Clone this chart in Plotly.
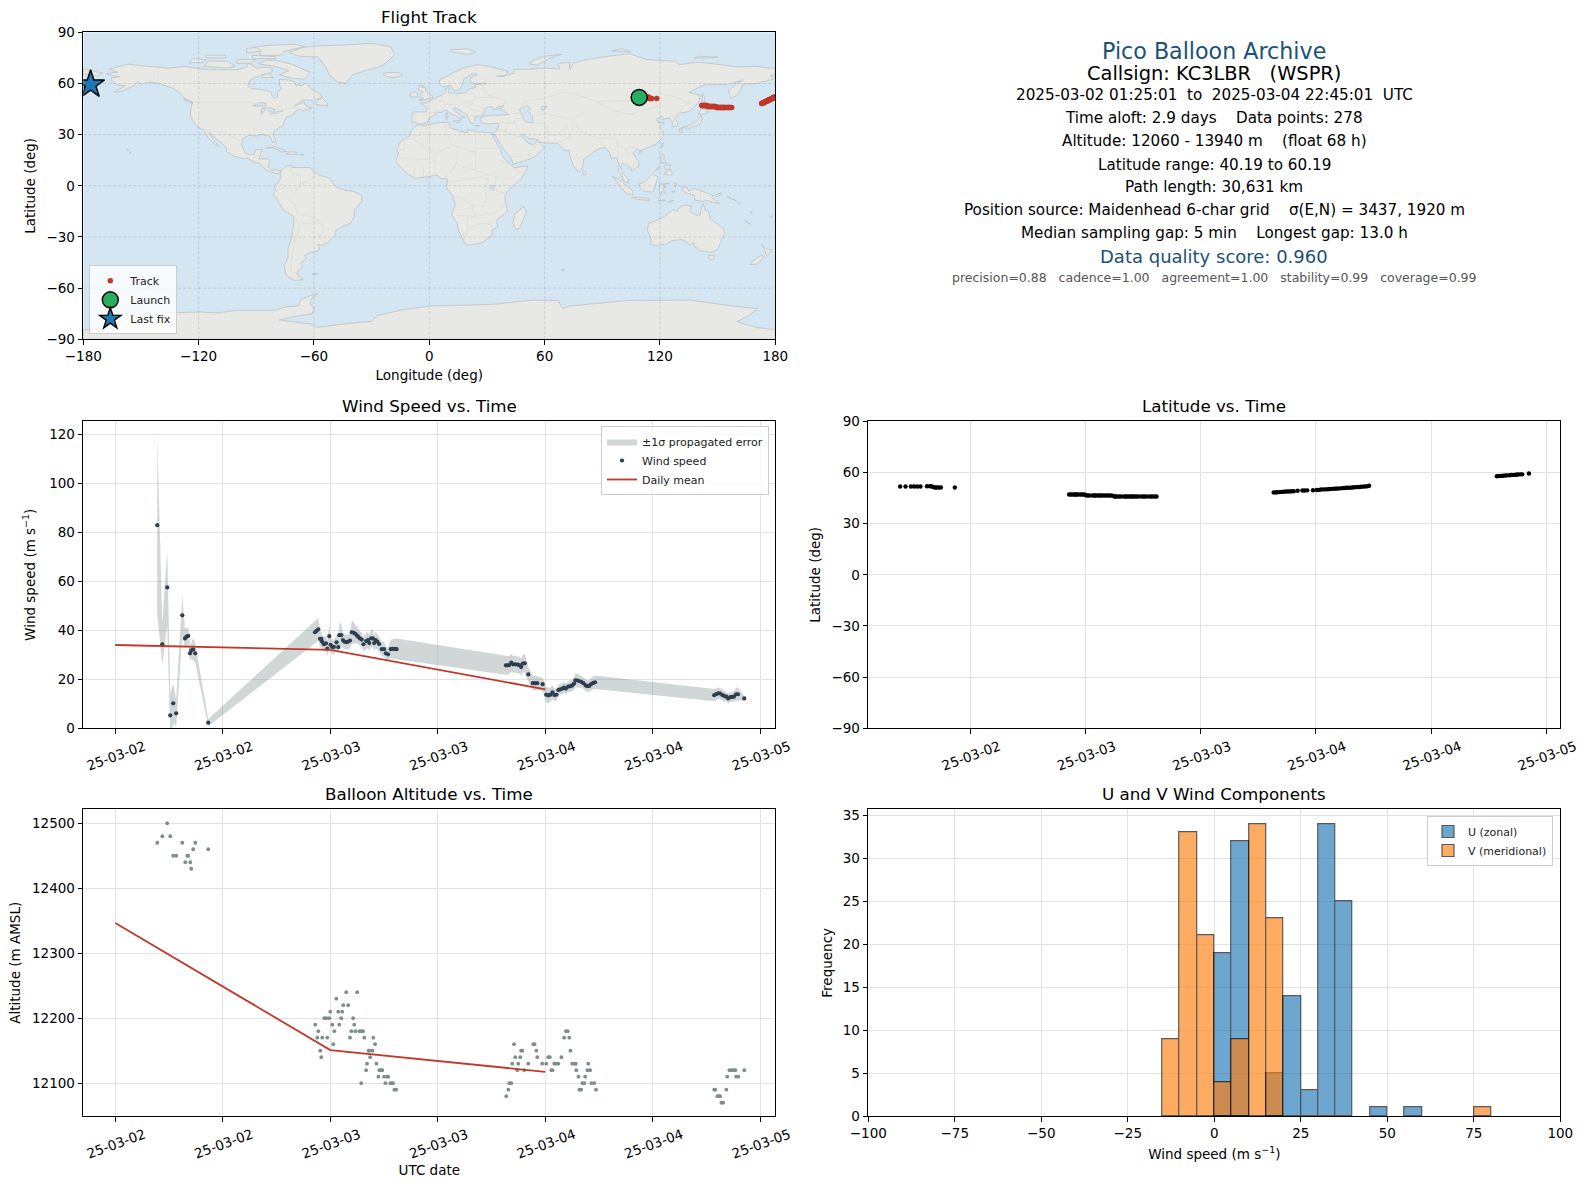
import pandas as pd
import plotly.graph_objs as go

# ---- flight data (hours after 2025-03-02 00:00 UTC) ----
wind_hours = [
    4.69, 5.25, 5.8, 6.14, 6.47, 6.8, 7.48, 7.78, 7.96, 8.15, 8.34, 8.48, 8.7, 8.93, 10.38,
    22.29, 22.47, 22.66, 22.85, 23.0, 23.07, 23.29, 23.52, 23.67, 23.89,
    24.03, 24.22, 24.4, 24.7, 24.89, 25.0, 25.22, 25.41, 25.56, 25.78,
    26.0, 26.2, 26.4, 26.6, 26.8, 27.0, 27.1, 27.3, 27.5, 27.7,
    28.0, 28.2, 28.35, 28.55, 28.75, 28.9, 29.05, 29.25, 29.45, 29.75,
    30.0, 30.2, 30.45, 30.75, 30.95, 31.2, 31.4,
    43.6, 43.8, 43.97, 44.2, 44.4, 44.65, 44.9, 45.1, 45.3, 45.5,
    45.7, 46.1, 46.6, 46.85, 47.1, 47.7, 48.1, 48.35, 48.55, 48.8,
    49.0, 49.25, 49.45, 49.67, 49.9, 50.1, 50.3, 50.55, 50.8, 51.0,
    51.2, 51.37, 51.6, 51.8, 52.0, 52.25, 52.5, 52.7, 52.9, 53.1,
    53.35, 53.55,
    66.85, 67.1, 67.3, 67.5, 67.75, 67.95, 68.2, 68.4, 68.65, 68.85, 69.05, 69.3, 69.5, 70.2,
]
wind_speed = [
    82.9, 34.3, 57.5, 5.3, 10.2, 6.1, 46.1, 36.7, 37.4, 37.7, 30.6, 31.8, 32.2, 30.6, 2.3,
    39.2, 39.8, 40.4, 36.5, 36.5, 35.4, 34.3, 34.7, 32.5, 37.6,
    34.1, 33.2, 33.2, 35.1, 33.1, 38.0, 38.0, 36.0, 35.4, 35.2,
    35.4, 35.8, 39.2, 39.0, 38.5, 37.8, 37.4, 36.7, 36.2, 34.3,
    35.6, 36.0, 34.8, 36.7, 36.7, 34.8, 36.0, 35.4, 34.4, 32.3,
    32.3, 30.6, 30.2, 32.3, 32.4, 32.4, 32.3,
    25.7, 25.7, 25.8, 26.8, 26.1, 26.1, 26.0, 25.8, 25.0, 26.4,
    26.5, 22.0, 18.4, 18.4, 18.4, 18.0, 13.7, 13.4, 13.7, 14.7,
    13.6, 13.7, 15.6, 15.9, 16.2, 16.6, 16.2, 17.0, 17.2, 17.5,
    18.2, 19.6, 19.5, 19.2, 19.0, 18.4, 17.5, 17.2, 17.3, 18.0,
    18.5, 18.8,
    13.5, 14.0, 14.3, 14.2, 13.6, 13.2, 12.9, 12.2, 12.7, 12.8, 12.9, 13.9, 13.9, 12.2,
]
wind_sigma = [
    36.5, 8.5, 15.2, 9.0, 8.2, 5.4, 8.3, 4.0, 3.6, 3.5, 3.0, 3.4, 4.6, 3.8, 1.5,
    4.6, 4.6, 4.6, 3.4, 3.2, 3.0, 3.0, 3.2, 3.0, 4.6,
    3.0, 3.0, 3.0, 3.2, 3.0, 5.2, 4.4, 3.2, 3.0, 3.0,
    3.0, 3.2, 4.8, 4.4, 3.8, 3.2, 3.2, 3.0, 3.0, 3.0,
    3.2, 3.4, 3.2, 3.6, 3.6, 3.2, 3.4, 3.0, 3.0, 3.0,
    3.0, 2.8, 2.8, 3.8, 4.0, 4.2, 4.4,
    3.8, 3.8, 3.6, 3.6, 3.4, 3.4, 3.4, 3.4, 3.4, 3.6,
    3.8, 3.0, 3.0, 3.0, 2.8, 2.6, 3.2, 3.2, 3.0, 2.8,
    2.6, 2.4, 2.2, 2.2, 2.2, 2.2, 2.2, 2.2, 2.4, 2.4,
    2.6, 2.8, 2.8, 2.6, 2.4, 2.4, 2.4, 2.4, 2.4, 2.6,
    2.6, 2.8,
    2.5, 2.5, 2.4, 2.2, 2.2, 2.2, 2.0, 2.0, 2.0, 2.0, 2.2, 2.8, 2.6, 1.0,
]
lat_vals = [
    51.8, 51.8, 51.8, 51.8, 51.8, 51.8, 51.9, 51.9, 51.9, 51.4, 51.2, 51.2, 51.2, 51.2, 51.2,
    47.1, 47.1, 47.1, 47.1, 47.1, 47.1, 47.1, 47.1, 47.1, 47.1,
    46.6, 46.5, 46.5, 46.5, 46.5, 46.5, 46.5, 46.5, 46.5, 46.5,
    46.5, 46.5, 46.5, 46.5, 46.4, 45.9, 45.9, 45.9, 45.9, 45.9,
    45.9, 45.9, 45.9, 45.9, 45.9, 45.9, 45.9, 45.9, 45.9, 45.9,
    45.9, 45.9, 45.9, 45.9, 45.9, 45.9, 45.9,
    48.3, 48.3, 48.4, 48.5, 48.6, 48.7, 48.8, 48.9, 48.9, 49.0,
    49.0, 49.3, 49.4, 49.4, 49.5, 49.6, 49.7, 49.8, 50.0, 50.1,
    50.1, 50.2, 50.3, 50.4, 50.5, 50.5, 50.6, 50.7, 50.8, 50.9,
    51.0, 51.0, 51.1, 51.2, 51.3, 51.4, 51.5, 51.6, 51.7, 51.8,
    51.9, 52.2,
    57.8, 57.9, 58.0, 58.1, 58.2, 58.3, 58.4, 58.5, 58.6, 58.7, 58.8, 58.9, 58.9, 59.4,
]
lon_vals = [
    109.2, 110.0, 110.9, 111.4, 112.0, 112.5, 113.4, 113.8, 114.1, 114.4, 114.7, 115.0, 115.3, 115.7, 118.3,
    141.7, 142.0, 142.3, 142.6, 142.9, 143.1, 143.4, 143.7, 144.0, 144.3,
    144.6, 144.9, 145.2, 145.6, 145.9, 146.1, 146.4, 146.8, 147.1, 147.4,
    147.8, 148.1, 148.4, 148.8, 149.1, 149.5, 149.8, 150.2, 150.5, 150.9,
    151.3, 151.7, 152.0, 152.4, 152.7, 153.0, 153.3, 153.6, 154.0, 154.5,
    155.0, 155.3, 155.7, 156.1, 156.5, 156.9, 157.3,
    172.9, 173.0, 173.2, 173.4, 173.5, 173.7, 173.8, 174.0, 174.1, 174.3,
    174.4, 174.7, 175.0, 175.1, 175.3, 175.6, 175.9, 176.0, 176.2, 176.3,
    176.5, 176.6, 176.8, 176.9, 177.0, 177.2, 177.3, 177.5, 177.6, 177.8,
    177.9, 178.0, 178.2, 178.3, 178.5, 178.6, 178.8, 178.9, 179.0, 179.2,
    179.5, 179.9,
    -178.5, -178.3, -178.1, -178.0, -177.8, -177.7, -177.5, -177.4, -177.2, -177.0, -176.9, -176.7, -176.6, -176.2,
]

alt_hours = [
    4.69, 5.25, 5.8, 6.14, 6.47, 6.8, 7.48, 7.82, 8.04, 8.15, 8.37, 8.48, 8.7, 8.93, 10.38,
    22.32, 22.66, 22.55, 22.88, 23.0, 23.1, 23.33, 23.55, 23.66, 23.89,
    24.0, 24.22, 24.33, 24.45, 24.67, 24.89, 25.0, 25.22, 25.33, 25.45,
    25.78, 26.0, 26.2, 26.35, 26.55, 26.67, 26.8, 27.0, 27.25, 27.5,
    27.65, 27.8, 27.45, 28.0, 28.1, 28.27, 28.45, 28.35, 28.7, 28.8,
    29.0, 29.15, 29.37, 29.47, 29.7, 29.8, 30.0, 30.15, 30.35, 30.47,
    30.7, 30.9, 31.0, 31.15, 31.35,
    43.64, 43.87, 43.98, 44.2, 44.3, 44.5, 44.65, 44.87, 44.98, 45.2,
    45.3, 45.43, 45.65, 46.1, 46.65, 46.8, 47.0, 47.1, 47.65, 48.1,
    48.33, 48.5, 48.67, 48.8, 49.0, 49.2, 49.45, 49.8, 50.1, 50.3,
    50.5, 50.67, 50.8, 51.0, 51.25, 51.4, 51.45, 51.7, 51.8, 52.0,
    52.15, 52.35, 52.45, 52.7, 52.8, 53.0, 53.15, 53.45, 53.65,
    66.85, 66.97, 67.2, 67.4, 67.5, 67.65, 67.85, 68.2, 68.3, 68.55, 68.75, 69.0, 69.2, 69.3, 69.55, 70.2,
]
alt_vals = [
    12470, 12480, 12500, 12480, 12450, 12450, 12470, 12440, 12450, 12450, 12440, 12430, 12460, 12470, 12460,
    12190, 12180, 12170, 12150, 12140, 12170, 12200, 12200, 12170, 12200,
    12210, 12190, 12160, 12180, 12230, 12210, 12190, 12200, 12210, 12220,
    12240, 12220, 12170, 12180, 12200, 12190, 12180, 12240, 12180, 12180,
    12180, 12170, 12100, 12120, 12130, 12150, 12140, 12150, 12150, 12170,
    12160, 12130, 12110, 12120, 12120, 12120, 12110, 12100, 12110, 12110,
    12100, 12100, 12100, 12090, 12090,
    12080, 12090, 12100, 12100, 12130, 12160, 12140, 12120, 12130, 12140,
    12150, 12150, 12120, 12130, 12160, 12160, 12150, 12140, 12130, 12130,
    12140, 12140, 12120, 12120, 12130, 12130, 12130, 12140, 12170, 12180,
    12180, 12170, 12150, 12130, 12130, 12130, 12120, 12110, 12090, 12090,
    12100, 12100, 12110, 12120, 12130, 12120, 12100, 12100, 12090,
    12090, 12090, 12080, 12080, 12080, 12070, 12070, 12090, 12110, 12120, 12120, 12120, 12120, 12110, 12110, 12120,
]

mean_hours = [0, 24, 48]
mean_wind = [34.0, 32.0, 15.9]
mean_alt = [12346.6, 12151, 12117.4]

hist_left = [-15, -10, -5, 0, 5, 10, 15, 20, 25, 30, 35, 40, 45, 50, 55, 60, 65, 70, 75]
u_counts = [0, 0, 0, 19, 32, 0, 5, 14, 3, 34, 25, 0, 1, 0, 1, 0, 0, 0, 0]
v_counts = [9, 33, 21, 4, 9, 34, 23, 0, 0, 0, 0, 0, 0, 0, 0, 0, 0, 0, 1]

info_lines = [
    "2025-03-02 01:25:01  to  2025-03-04 22:45:01  UTC",
    "Time aloft: 2.9 days    Data points: 278",
    "Altitude: 12060 - 13940 m    (float 68 h)",
    "Latitude range: 40.19 to 60.19",
    "Path length: 30,631 km",
    "Position source: Maidenhead 6-char grid    σ(E,N) = 3437, 1920 m",
    "Median sampling gap: 5 min    Longest gap: 13.0 h",
]
info_y = [95.3, 118.3, 141.2, 164.8, 187.3, 210.3, 233.3]

# ---- base map outlines (lon, lat), traced by eye ----
land_polygons = [
    # North America
    [(-168, 65.6), (-164, 66.5), (-162, 66.5), (-166.5, 68.3), (-163, 69.5), (-156.5, 71.3), (-150, 70.4), (-141, 69.7),
     (-135, 69), (-128, 70), (-124, 69.5), (-115, 68), (-108, 68), (-100, 68), (-95, 69.5), (-94, 72), (-90, 69),
     (-85, 69.5), (-81.5, 69), (-82, 66.5), (-87, 65), (-90, 64), (-93, 62), (-94.5, 59), (-92.5, 57), (-88, 56.5),
     (-82.5, 55.2), (-82, 53), (-80, 51.3), (-79, 52), (-79, 55), (-76.8, 57), (-78, 59), (-78, 62.4), (-73, 62),
     (-70, 60.8), (-69.5, 59), (-66, 58.8), (-64.5, 60.3), (-61.5, 57), (-57, 54), (-55.8, 52), (-60, 50.2), (-66, 50.2),
     (-70, 47), (-65, 49), (-64.5, 47), (-61, 45.5), (-65.8, 44), (-67, 45), (-70, 43.5), (-70.5, 41.7), (-74, 40.5),
     (-75.5, 38), (-76, 35.5), (-78, 34), (-81, 32), (-81.3, 30), (-80, 26.8), (-80.5, 25.2), (-81.8, 26), (-83, 29),
     (-85, 29.7), (-89, 30.2), (-89.5, 29.2), (-94, 29.6), (-97.2, 27.5), (-97.5, 24), (-96, 19.5), (-94, 18.2),
     (-91, 18.6), (-90.5, 21), (-87, 21.4), (-88, 17.5), (-88.8, 15.8), (-84, 15.8), (-83.2, 14.8), (-83.7, 11), (-82, 9),
     (-79.5, 9.5), (-77.3, 8.7), (-78, 7.3), (-80, 7.4), (-83, 8.2), (-85.7, 10), (-87.6, 13), (-91.5, 14), (-94.5, 16.2),
     (-97, 15.9), (-101.5, 17.5), (-105.5, 20), (-105.5, 22.5), (-109, 25.8), (-112.5, 29.5), (-114.7, 31.5), (-112.5, 27.5),
     (-110, 24), (-109.5, 23), (-112, 24.8), (-115, 28), (-117.2, 32.5), (-120.5, 34.5), (-122.5, 37.5), (-124.3, 40.3),
     (-124, 46), (-123, 49), (-127, 51), (-130, 54.5), (-133, 57), (-137, 58.7), (-140, 59.8), (-146, 60.8), (-150, 59.5),
     (-152, 61), (-154, 58.5), (-160, 55.5), (-164, 54.7), (-158, 58.7), (-162, 59), (-165, 61), (-165.5, 63), (-161, 64), (-165, 64.6)],
    # Greenland and the Arctic islands
    [(-73, 78.2), (-66, 81), (-60, 82), (-45, 82.5), (-30, 83.5), (-20, 81.5), (-18, 77), (-22, 72.5), (-25, 70), (-32, 68),
     (-40, 65), (-43.5, 60), (-48, 61), (-52, 65), (-54, 70), (-58, 75.5), (-68, 76)],
    [(-80, 73.5), (-72, 71.5), (-68, 69.5), (-62, 66.5), (-65, 62.5), (-71, 63), (-78, 65), (-73, 67.5), (-80, 70), (-89, 71.5), (-85, 73.7)],
    [(-117, 70), (-105, 69), (-101, 70), (-105, 73), (-115, 73.2)],
    [(-125, 72), (-118, 72.5), (-116, 74), (-123, 74.5)],
    [(-88, 76.5), (-78, 76.5), (-75, 79), (-65, 81.5), (-70, 83), (-85, 82.3), (-92, 81), (-88, 78)],
    [(-92, 74.5), (-80, 74.6), (-80, 75.7), (-92, 76.5)],
    [(-116, 75), (-106, 75), (-106, 76.5), (-116, 76.5)],
    [(-100, 71.8), (-93, 72), (-90, 74), (-100, 74)],
    [(-95, 78), (-87, 79), (-90, 81), (-95, 80.5)],
    [(-59, 47.7), (-53, 46.7), (-53, 48.5), (-56, 51.5), (-58, 50)],
    [(-87, 63.5), (-81, 63.5), (-84, 65.8), (-87, 65)],
    [(-128, 50.5), (-123.5, 48.5), (-125.5, 50.3)],
    # Caribbean
    [(-85, 22), (-80, 23), (-74.2, 20.2), (-77.5, 19.9), (-78, 20.7), (-82, 22.5)],
    [(-74.5, 18.5), (-68.5, 18.5), (-69.5, 19.9), (-73, 19.9)],
    [(-67.2, 18), (-65.6, 18), (-65.6, 18.5), (-67.2, 18.5)],
    [(-155.9, 20), (-155, 19.7), (-155.7, 19)],
    [(-157.5, 21.2), (-156.2, 20.7), (-156.8, 21)],
    # South America
    [(-77.3, 8.7), (-75, 11), (-72, 12.2), (-71.5, 10.8), (-68, 10.7), (-62, 10.7), (-60, 8.5), (-57, 6), (-52, 4.7), (-50, 1),
     (-48, -1), (-44, -2.6), (-40, -3), (-35.2, -5.5), (-35, -9), (-39, -14), (-39, -18), (-41, -22), (-45, -23.7), (-48.5, -26),
     (-49, -29), (-53, -33.5), (-56, -35), (-58.3, -34.2), (-57, -36.5), (-58, -38.3), (-62, -39), (-65, -41), (-63.7, -42.5),
     (-67, -45.5), (-66, -47.5), (-69, -51), (-68.3, -52.5), (-65.5, -55), (-70, -55.5), (-74.5, -52.5), (-75.5, -47), (-73.5, -42),
     (-73.5, -37), (-71.5, -30), (-70.3, -20), (-71, -17.5), (-76, -14), (-78, -10), (-81.3, -5), (-80, -2.5), (-80.5, 0), (-78.5, 2),
     (-77.5, 4), (-77.5, 7)],
    [(-61, -52), (-58, -51.5), (-58.5, -52.2)],
    # Africa
    [(-6, 35.8), (-2, 35.2), (3, 36.8), (10, 37.3), (11, 34), (15, 32.3), (20, 31), (20, 32.8), (25, 31.7), (32, 31.2), (32.5, 30),
     (33.7, 27.5), (35.5, 24), (37.3, 21), (37.5, 18.5), (39.5, 15.5), (43, 12), (44, 10.5), (51, 11.8), (51, 10), (48, 4.5),
     (42, -1.5), (39.5, -5), (39.5, -9), (40.7, -15), (35, -20), (35.5, -24), (32.8, -26), (32.5, -29), (28, -33), (25, -34),
     (20, -34.8), (18.4, -34), (17, -30), (15, -26), (14.5, -22), (11.8, -17), (13.5, -11), (12.2, -6), (9, -1), (9.5, 4), (6, 4.3),
     (4, 6.3), (-2, 5), (-7.5, 4.4), (-11, 6.7), (-15, 11), (-17.5, 14.7), (-16, 19), (-17, 21), (-15, 26), (-10, 29.5), (-9.5, 32.5)],
    # Eurasia
    [(-9, 38.7), (-8.8, 43.2), (-1.8, 43.4), (-1, 46), (-4.5, 48.5), (-1.5, 48.7), (2, 51), (4, 52), (7, 53.5), (8.5, 55), (8.2, 57),
     (10.5, 57.5), (10, 54.5), (14, 54), (19, 54.5), (21, 57), (24, 57.5), (24, 59.3), (30, 60), (23, 60), (21.5, 61), (21.5, 63.5),
     (25, 65.2), (22, 65.7), (18, 62.5), (17.5, 60.5), (16, 56.5), (13, 55.5), (11, 59), (7, 58), (5, 60), (5.5, 62), (12, 66), (17, 69),
     (25, 71), (31, 70), (41, 67), (40, 64.8), (35, 64.3), (38, 64), (44, 66), (44, 68.3), (54, 68.5), (60, 69), (68, 68.5), (67, 71.5),
     (73, 72.5), (73, 68), (75, 72), (80, 73.5), (90, 75.5), (104, 77.5), (113, 74), (128, 73), (130, 71), (140, 72.5), (152, 71),
     (160, 69.7), (170, 70), (178, 69), (180, 68.7), (180, 65), (177.5, 64.7), (179, 62.5), (170, 60), (163, 59.5), (162, 56), (160, 53),
     (156.8, 51), (155.7, 56), (159, 59), (163, 62), (155, 59.3), (143, 59.3), (135, 54.7), (141, 53), (140, 48.5), (135, 43.5), (130, 42.5),
     (127.5, 39.5), (129.3, 37), (129, 35.2), (126.3, 34.5), (126.5, 37.5), (125, 39.5), (121.5, 39), (121, 40.8), (118, 39), (119, 37.3),
     (122.5, 37), (119.5, 34.8), (122, 31), (121.5, 28.5), (118, 24.5), (113.5, 22.2), (110, 20.5), (108, 21.6), (106, 19), (109, 14),
     (109, 11.5), (105, 8.8), (105, 10.5), (102, 12.5), (100.5, 13.5), (99.5, 11), (100, 8.5), (103.3, 4), (104, 1.5), (101, 3), (100.3, 6),
     (98.3, 8), (98.7, 12), (97.5, 16.5), (94.5, 16), (94, 19), (91.5, 22.5), (89, 21.8), (87, 21), (85, 19.5), (80.3, 15.5), (80, 11),
     (77.5, 8), (75, 12), (73, 18), (72.7, 21), (70.5, 20.8), (69, 22.5), (67, 25), (61.5, 25), (57, 25.7), (56.5, 27), (51.5, 27.8),
     (49, 30.3), (48, 29.8), (50, 26.5), (51.5, 25), (54, 24), (56.3, 26.2), (59.8, 22.5), (55, 17), (52, 15.5), (43.5, 12.7), (42.5, 16.5),
     (39, 21), (35, 28), (34.5, 29.5), (32.6, 30.2), (34.3, 31.3), (36, 34), (36, 36.7), (30.5, 36.3), (27.3, 37), (26.3, 39.5), (29, 41),
     (31.5, 41.2), (36, 41.3), (41.5, 41.7), (37, 45), (39, 47.2), (35, 46), (36.5, 45.3), (33.5, 44.5), (33, 46), (30.7, 46.5), (28, 43.5),
     (28, 41.5), (26, 40.7), (23.5, 40.3), (24, 38), (22.8, 36.5), (21.5, 37), (19.5, 41), (19, 42.3), (13.7, 45.6), (12.3, 45), (13.5, 43.5),
     (16, 41.8), (18.4, 40), (16.7, 40), (16, 38), (15.7, 40), (12.5, 41.5), (10.5, 43), (8.8, 44.4), (6, 43), (3.2, 43.2), (3, 41.7), (0, 39.7),
     (-0.5, 38), (-2, 36.8), (-5.5, 36), (-7, 37.2), (-9, 37)],
    # Chukotka across the date line
    [(-180, 68.7), (-175, 67.5), (-170, 66), (-173, 64.3), (-178, 65.5), (-180, 65)],
    # European and Arctic islands
    [(-5.5, 50), (1.5, 51.3), (1.7, 52.7), (-0.2, 53.5), (-2, 56), (-2, 57.6), (-4, 57.7), (-3, 58.6), (-5, 58.6), (-6, 56.5), (-3.2, 54.9), (-4.5, 53.3), (-5, 51.7), (-3, 51.4)],
    [(-10, 52), (-6.2, 52.2), (-6, 54), (-8, 55.2), (-10, 54)],
    [(-24, 65.5), (-22, 64), (-18, 63.4), (-14, 64.8), (-15, 66.2), (-22, 66.4)],
    [(12, 78.5), (20, 77), (24, 78.5), (20, 80.3), (11, 79.7)],
    [(52, 71.5), (56, 70.7), (58, 72), (66, 76.5), (69, 77), (60, 76), (54, 73.5)],
    [(95, 79), (105, 78.5), (100, 80.5)],
    [(138, 75), (146, 75), (150, 75.5), (140, 76)],
    [(9, 39), (9.7, 39.2), (9.5, 41), (8.3, 40.8)],
    [(12.5, 38), (15.5, 38.2), (15, 36.7)],
    [(8.6, 41.5), (9.5, 42), (9.4, 43), (8.7, 42.5)],
    [(23.5, 35.3), (26.3, 35.2), (24.8, 34.9)],
    # Indian Ocean and East Asia islands
    [(49.3, -12), (50.5, -15.5), (47, -25), (45, -25.5), (43.5, -22), (44.5, -16.5)],
    [(80, 9.5), (81.8, 7.5), (80.5, 6), (79.8, 8)],
    [(121, 25), (122, 25), (120.8, 22)],
    [(109, 20), (111, 20), (109.5, 18.2)],
    [(140, 42), (141.5, 45.4), (145.3, 43.3), (143, 42)],
    [(131, 34), (136, 35.7), (139.5, 38.2), (141.3, 41.4), (142, 39.5), (140.8, 35.7), (137, 34.6), (135.5, 33.6), (132.5, 34)],
    [(130, 33.5), (131.7, 33.5), (131.3, 31.3), (130.2, 31.3)],
    [(142, 54.3), (143.3, 52), (143, 49), (143.5, 46.5), (142, 46), (142, 50)],
    [(95.3, 5.5), (98, 4.2), (104, -1), (106, -3), (105.8, -5.8), (102, -4), (100, -1)],
    [(105.3, -6.8), (108.7, -6.6), (114.5, -7.7), (114.5, -8.7), (108, -7.8)],
    [(109, 1), (111, 1.8), (113, 3.2), (116, 6.9), (119, 5.2), (117.7, 1), (116.3, -3.8), (111.7, -3.2), (110, -1.5)],
    [(119.8, 0.8), (125, 1.6), (121, 0.5), (123.3, -0.9), (121.5, -1.2), (122.8, -4.5), (121, -3), (120.4, -5.5), (119.5, -3.5)],
    [(120.5, 18.5), (122.2, 18.3), (122, 15), (124, 13), (120.7, 13.8)],
    [(122, 7), (125.5, 9.7), (126.5, 7.5), (125.4, 5.7), (124, 6.5)],
    [(122, 11.5), (125.5, 12.5), (125, 10), (123, 9.5)],
    [(117.2, 8.5), (119.5, 11.3), (119.2, 10)],
    [(119, -8.5), (123, -8.3), (122.8, -8.8), (119.5, -8.9)],
    [(124, -10), (127, -8.4), (125, -9.2)],
    [(126, -3.2), (128, -3.2), (127, -3.8)],
    [(127.5, 1.9), (128.7, 1.2), (127.9, -0.8)],
    # New Guinea and the Pacific
    [(131, -0.8), (134, -0.8), (135, -3.2), (138, -1.7), (141, -2.6), (145, -4.4), (147.8, -6), (146.9, -6.8), (150.8, -10.3), (147, -9.5),
     (143.5, -8.3), (143, -9.2), (138, -8.4), (138, -5.5), (133, -4), (132, -2.8)],
    [(148.3, -5.6), (152, -4.2), (152, -5.5), (149, -6.3)],
    [(155, -6), (157, -7.5), (156, -7)],
    [(157.5, -7.5), (160, -9), (159, -8.8)],
    [(160.5, -9.8), (162, -10.7), (160.8, -10.3)],
    [(164, -20.2), (167, -22.3), (166.2, -22.3)],
    [(167, -15), (168, -16), (167.2, -16)],
    [(177.5, -18), (178.5, -17.5), (178.5, -18.2)],
    # Australia and New Zealand
    [(114, -22), (113.5, -26), (115.5, -31.5), (115, -34.3), (118, -35), (123.5, -34), (126, -32.3), (131, -31.5), (134, -33), (135.5, -34.8),
     (137.8, -33), (138, -35.5), (140.5, -38), (144, -38.5), (146.5, -39), (150, -37.3), (151.3, -33.8), (153.5, -28), (153, -25), (149.5, -22.2),
     (146, -19), (145.3, -15), (143.5, -14.3), (142.5, -10.8), (141.5, -13), (141, -17), (139, -17.3), (135.5, -15), (136.5, -12), (132.5, -11.3),
     (130, -13), (129, -15), (127, -14), (124, -16.5), (122.3, -18), (119, -20)],
    [(145, -40.8), (148.3, -40.8), (148, -43.2), (146, -43.5)],
    [(172.7, -40.6), (174.3, -41.7), (170.7, -45.9), (167, -46.2), (168.3, -44)],
    [(173, -34.5), (175.5, -37), (178.4, -37.7), (176, -41.3), (175, -40), (174.7, -38)],
    [(69, -49), (70.5, -49.2), (69.5, -49.7)],
    # Antarctica
    [(-180, -84.4), (-165, -84), (-158, -77), (-148, -75), (-135, -74.5), (-120, -74), (-110, -74.5), (-100, -73), (-90, -73), (-80, -73),
     (-75, -71), (-68, -70.5), (-67, -67), (-62, -64.5), (-58, -63.3), (-61, -66), (-62, -69), (-60, -72), (-61, -75), (-72, -77), (-78, -78.7),
     (-62, -81), (-58, -83), (-45, -81), (-30, -79.5), (-27, -76), (-15, -73), (0, -70.5), (33, -69.5), (54, -67), (67, -67.3), (69.5, -72),
     (73, -70.5), (102.7, -67.3), (135.6, -67), (158, -70.5), (171, -72), (165, -77), (160, -79.7), (170, -83), (180, -84.4), (180, -90), (-180, -90)],
]

water_polygons = [
    [(47, 45), (51, 47), (53, 45), (51, 44), (53.5, 41), (54, 37), (50, 37.3), (49, 39.5), (47.5, 43)],
    [(-92, 46.7), (-85, 46.8), (-85, 48.5), (-88.5, 48.7)],
    [(-87.7, 42), (-86.3, 43), (-85, 45.8), (-87, 45.5)],
    [(-84, 46), (-80, 44.7), (-81.7, 43.2), (-83.5, 44)],
    [(-83, 42), (-79, 42.7), (-80, 43.3)],
    [(-79.5, 43.3), (-76.3, 43.5), (-76.5, 44.2)],
    [(58.5, 46.5), (61, 46.5), (60, 44.5), (58.5, 44.5)],
    [(31.8, 0), (34, 0), (33.5, -2.5), (32, -2.5)],
    [(104, 51.7), (106, 52.3), (109.8, 55.7), (108.5, 54.5)],
]

border_lines = [
    [(-141, 69.7), (-141, 60)], [(-123, 49), (-95, 49), (-89, 48), (-84, 46), (-82.5, 42.5), (-79, 43), (-75, 45), (-70, 46), (-67.5, 47)],
    [(-117, 32.5), (-106.5, 31.7), (-103, 29), (-97.3, 25.9)], [(-92, 14.5), (-91, 17.8), (-89, 17.9)],
    [(-72, 12), (-72, 7.5), (-67, 6), (-67, 1.5), (-70, -4.3), (-73.5, -7.5), (-70, -11), (-69, -16), (-58, -20), (-54.5, -25.5), (-57.5, -30), (-53.5, -33.5)],
    [(-60, 8.5), (-60, 5), (-64, 2), (-67, 1.5)], [(-70.3, -18), (-67.5, -22.5), (-70, -33), (-71.5, -42), (-72, -50), (-68.5, -52.5)],
    [(-78.5, 1.5), (-75, 0), (-70, -4.3)], [(-80, -3.5), (-75.5, -1)], [(-57.5, -20), (-62, -22), (-66, -22)],
    [(-9, 37), (-7, 38), (-7, 42), (-8.8, 42)], [(-1.8, 43.4), (3.2, 42.5)], [(2.5, 51), (6, 49.5), (8, 49), (7.5, 47.5), (6.5, 46), (7.5, 43.8)],
    [(7, 53.5), (6, 51), (6, 49.5)], [(8.5, 55), (14, 54)], [(14, 54), (15, 51), (18.5, 49.5), (22.5, 49), (24, 51.5), (23.5, 54), (21, 55.3)],
    [(7.5, 47.5), (13, 47.5), (17, 48), (22.5, 48)], [(12, 66), (18, 68.5), (20, 69)], [(25, 71), (24, 66), (30, 62), (28, 60)],
    [(28, 59.5), (28, 56), (31, 53), (34, 52), (40, 49.5), (38, 47)], [(24, 51.5), (31, 52), (34, 52)], [(22.5, 48), (28, 45.5), (30, 46)],
    [(22.5, 48), (20, 46), (22.5, 44), (28, 43.7)], [(19.5, 41), (23, 41), (26, 41.5)],
    [(47.5, 43), (41.5, 41.7)], [(49, 39.5), (44.5, 39.5), (44, 37), (46, 33), (48, 30)], [(36, 36.7), (42, 37), (44.5, 37.2)], [(36, 33), (39, 32), (42, 37)],
    [(39, 32), (46, 29), (48, 29)], [(52, 16), (52, 19), (55, 22), (56, 24.5)], [(43, 17.3), (47, 17), (52, 19)],
    [(47, 45), (50, 50), (60, 51), (70, 55), (77, 53.5), (87, 49.5)], [(87, 49.5), (98, 50), (106, 50), (117, 49.7), (120, 53.5), (126, 53), (135, 48.5), (131, 45), (130.5, 42.5)],
    [(87, 49.5), (95, 44), (105, 42), (112, 44.5), (119, 46.5), (117, 49.7)], [(80, 42), (74, 39.5), (75, 37), (79, 32), (87, 28), (97, 28), (98, 24), (102, 21.5), (106, 23), (108, 21.6)],
    [(53.5, 41), (60, 42), (66, 41), (73, 39.5)], [(54, 37), (61, 36), (61.5, 31), (61.5, 25)], [(61.5, 31), (66, 29.5), (70, 33), (74, 37)],
    [(67, 25), (71, 27), (74, 31), (75, 37)], [(89, 26), (92, 22.5)], [(98, 24), (98.5, 16)], [(102, 21.5), (104, 18), (107, 15), (106, 11)], [(124.5, 40), (130.5, 42.5)], [(126, 38), (128.5, 38.5)],
    [(141, -2.6), (141, -9.2)], [(-17, 21), (-13, 21), (-13, 27.7), (-8.7, 27.7), (-2, 32), (-1.5, 35)], [(-8.7, 27.7), (3, 19), (12, 23.5), (9.5, 30), (8, 33), (8.5, 36.8)],
    [(12, 23.5), (15, 23), (24, 19.5), (24, 31.7)], [(25, 22), (37, 22)], [(24, 19.5), (24, 9), (35, 5), (42, 4), (48, 8), (44, 10.5)], [(36, 15), (43, 12)],
    [(3, 19), (3, 11.5), (2.5, 6.4)], [(-16, 16.5), (-5, 15.5), (3, 15)], [(15, 23), (14, 13), (8.5, 4.5)], [(14, 13), (24, 9)], [(-3, 11), (-3, 5)], [(-8, 10), (-8, 4.5)],
    [(9, 2), (18, 3.5), (27, 5), (31, 3.5)], [(12.2, -6), (17, -7), (22, -11), (28, -12), (30, -8), (29, -1), (31, 3.5)], [(30, -1), (40, -4.5)], [(35, 5), (34, 0)],
    [(13.5, -17.3), (24, -18), (33, -16), (36, -15), (40.7, -10.5)], [(22, -11), (24, -18)], [(20, -18), (20, -28), (17, -28.5)], [(33, -26), (32, -22.5), (27, -22), (20, -25)],
]

lon_ticks = [-180, -120, -60, 0, 60, 120, 180]
lat_ticks = [-90, -60, -30, 0, 30, 60, 90]


def open_lines(lines):
    xs, ys = [], []
    for line in lines:
        xs += [p[0] for p in line] + [None]
        ys += [p[1] for p in line] + [None]
    return xs, ys


def polygon_trace(poly, fill):
    # each landmass gets its own closed trace
    return go.Scatter(x=[p[0] for p in poly] + [poly[0][0]], y=[p[1] for p in poly] + [poly[0][1]],
                      mode="lines", fill="toself", fillcolor=fill, line=dict(color="#bcc3c6", width=0.8),
                      showlegend=False, hoverinfo="skip", xaxis="x", yaxis="y")


def hours_to_dates(hours):
    return [pd.Timestamp("2025-03-02") + pd.Timedelta(hours=h) for h in hours]


def axis_base(dom, vertical, **kw):
    # dom is given in pixels of the 1587x1190 page
    size = 1190 if vertical else 1587
    if vertical:
        domain = [1 - dom[1] / size, 1 - dom[0] / size]
    else:
        domain = [dom[0] / size, dom[1] / size]
    ax = dict(domain=domain, showline=True, mirror=True, linecolor="black", linewidth=1.3,
              ticks="outside", ticklen=4.5, tickwidth=1, tickcolor="black", zeroline=False,
              gridcolor="#e2e2e2", gridwidth=1, automargin=False,
              tickfont=dict(size=13.5, color="black"))
    ax.update(kw)
    return ax


def date_axis(dom, anchor, rng, title=None):
    ax = axis_base(dom, False, anchor=anchor, type="date", range=rng, tick0="2025-03-02",
                   dtick=43200000, tickformat="%y-%m-%d", tickangle=-20, ticklabelshift=29)
    if title:
        ax["title"] = dict(text=title, standoff=5, font=dict(size=13.5))
    return ax


left_col = (83.3, 775.3)
right_col = (868.3, 1560.3)
row1 = (32.3, 339.3)
row2 = (421.3, 728.3)
row3 = (809.3, 1116.3)
left_range = ["2025-03-01 20:26", "2025-03-05 01:40"]
right_range = ["2025-03-02 01:22", "2025-03-05 01:28"]

data = []

# flight track map
for poly in land_polygons:
    data.append(polygon_trace(poly, "#e8e8e4"))
for poly in water_polygons:
    data.append(polygon_trace(poly, "#d4e6f1"))
bord_x, bord_y = open_lines(border_lines)
data.append(go.Scatter(x=bord_x, y=bord_y, mode="lines", line=dict(color="#dcdcd7", width=0.7),
                       showlegend=False, hoverinfo="skip", xaxis="x", yaxis="y"))
grid_x, grid_y = open_lines([[(v, -90), (v, 90)] for v in lon_ticks[1:-1]]
                            + [[(-180, v), (180, v)] for v in lat_ticks[1:-1]])
data.append(go.Scatter(x=grid_x, y=grid_y, mode="lines",
                       line=dict(color="rgba(110,120,125,0.28)", width=0.8, dash="3px,2px"),
                       showlegend=False, hoverinfo="skip", xaxis="x", yaxis="y"))
data.append(go.Scatter(x=lon_vals, y=lat_vals, mode="markers", name="Track",
                       marker=dict(color="#c0392b", size=5.5), xaxis="x", yaxis="y", legend="legend3"))
data.append(go.Scatter(x=lon_vals[:1], y=lat_vals[:1], mode="markers", name="Launch",
                       marker=dict(color="#27ae60", size=16, line=dict(color="black", width=1.4)),
                       xaxis="x", yaxis="y", legend="legend3"))
data.append(go.Scatter(x=lon_vals[-1:], y=lat_vals[-1:], mode="markers", name="Last fix",
                       marker=dict(color="#1f77b4", size=21, symbol="star", line=dict(color="black", width=1.4)),
                       xaxis="x", yaxis="y", legend="legend3"))

# wind speed
wind_dates = hours_to_dates(wind_hours)
upper = [v + s for v, s in zip(wind_speed, wind_sigma)]
lower = [v - s for v, s in zip(wind_speed, wind_sigma)]
data.append(go.Scatter(x=wind_dates + wind_dates[::-1], y=upper + lower[::-1], mode="lines", fill="toself",
                       fillcolor="rgba(127,140,141,0.36)", line=dict(width=0), name="±1σ propagated error",
                       xaxis="x2", yaxis="y2"))
data.append(go.Scatter(x=wind_dates, y=wind_speed, mode="markers", name="Wind speed",
                       marker=dict(color="#2c3e50", size=4.2), xaxis="x2", yaxis="y2"))
data.append(go.Scatter(x=hours_to_dates(mean_hours), y=mean_wind, mode="lines", name="Daily mean",
                       line=dict(color="#c0392b", width=1.8), xaxis="x2", yaxis="y2"))

# latitude
data.append(go.Scatter(x=wind_dates, y=lat_vals, mode="markers", marker=dict(color="black", size=4.4),
                       showlegend=False, xaxis="x3", yaxis="y3"))

# altitude
data.append(go.Scatter(x=hours_to_dates(alt_hours), y=alt_vals, mode="markers",
                       marker=dict(color="#7f8c8d", size=3.8), showlegend=False, xaxis="x4", yaxis="y4"))
data.append(go.Scatter(x=hours_to_dates(mean_hours), y=mean_alt, mode="lines",
                       line=dict(color="#c0392b", width=1.8), showlegend=False, xaxis="x4", yaxis="y4"))

# histogram, empty bins left out so they draw no edge on the axis
hist_mid = [b + 2.5 for b in hist_left]
data.append(go.Bar(x=hist_mid, y=[c if c else None for c in u_counts], width=5, name="U (zonal)", opacity=0.65,
                   marker=dict(color="#1f77b4", line=dict(color="black", width=1.2)),
                   xaxis="x5", yaxis="y5", legend="legend2"))
data.append(go.Bar(x=hist_mid, y=[c if c else None for c in v_counts], width=5, name="V (meridional)", opacity=0.65,
                   marker=dict(color="#ff7f0e", line=dict(color="black", width=1.2)),
                   xaxis="x5", yaxis="y5", legend="legend2"))

annotations = []


def add_text(text, px_x, px_y, size, color="black"):
    annotations.append(dict(text=text, x=px_x / 1587, y=1 - px_y / 1190, xref="paper", yref="paper",
                            xanchor="center", yanchor="middle", showarrow=False,
                            font=dict(size=size, color=color)))


left_mid = sum(left_col) / 2
right_mid = sum(right_col) / 2
add_text("Flight Track", left_mid, 17.3, 16.7)
add_text("Wind Speed vs. Time", left_mid, 405.5, 16.7)
add_text("Latitude vs. Time", right_mid, 405.5, 16.7)
add_text("Balloon Altitude vs. Time", left_mid, 793.5, 16.7)
add_text("U and V Wind Components", right_mid, 793.5, 16.7)
add_text("Pico Balloon Archive", right_mid, 51.5, 22.2, "#1a5276")
add_text("Callsign: KC3LBR   (WSPR)".replace("  ", "\u00a0\u00a0"), right_mid, 73.8, 19.4)
for line, y_px in zip(info_lines, info_y):
    add_text(line.replace("  ", "\u00a0\u00a0"), right_mid, y_px, 15.2)
add_text("Data quality score: 0.960", right_mid, 256, 18, "#1a5276")
add_text("precision=0.88   cadence=1.00   agreement=1.00   stability=0.99   coverage=0.99".replace("  ", "\u00a0\u00a0"),
         right_mid, 277.5, 12.5, "#555555")

legend_style = dict(bgcolor="rgba(255,255,255,0.8)", bordercolor="#cccccc", borderwidth=1,
                    font=dict(size=11, color="#222222"), itemsizing="trace", traceorder="normal")

layout = go.Layout(
    width=1587,
    height=1190,
    margin=dict(l=0, r=0, t=0, b=0),
    paper_bgcolor="white",
    plot_bgcolor="white",
    font=dict(family="DejaVu Sans", color="black"),
    barmode="overlay",
    bargap=0,
    showlegend=True,
    annotations=annotations,
    # ocean background of the map panel
    shapes=[dict(type="rect", xref="x", yref="y", x0=lon_ticks[0], x1=lon_ticks[-1], y0=lat_ticks[0], y1=lat_ticks[-1],
                 fillcolor="#d4e6f1", line=dict(width=0), layer="below")],
    xaxis=axis_base(left_col, False, anchor="y", range=[-180, 180], tickvals=lon_ticks, showgrid=False,
                    title=dict(text="Longitude (deg)", standoff=7, font=dict(size=13.5))),
    yaxis=axis_base(row1, True, anchor="x", range=[-90, 90], tickvals=lat_ticks, showgrid=False,
                    title=dict(text="Latitude (deg)", standoff=7, font=dict(size=13.5))),
    xaxis2=date_axis(left_col, "y2", left_range),
    yaxis2=axis_base(row2, True, anchor="x2", range=[0, 125.3], tickvals=[0, 20, 40, 60, 80, 100, 120],
                     title=dict(text="Wind speed (m s<sup>−1</sup>)", standoff=10, font=dict(size=13.5))),
    xaxis3=date_axis(right_col, "y3", right_range),
    yaxis3=axis_base(row2, True, anchor="x3", range=[-90, 90], tickvals=lat_ticks,
                     title=dict(text="Latitude (deg)", standoff=7, font=dict(size=13.5))),
    xaxis4=date_axis(left_col, "y4", left_range, title="UTC date"),
    yaxis4=axis_base(row3, True, anchor="x4", range=[12049, 12521.5], tickvals=[12100, 12200, 12300, 12400, 12500],
                     tickformat="d",
                     title=dict(text="Altitude (m AMSL)", standoff=8, font=dict(size=13.5))),
    xaxis5=axis_base(right_col, False, anchor="y5", range=[-100, 100], tickvals=[-100, -75, -50, -25, 0, 25, 50, 75, 100],
                     title=dict(text="Wind speed (m s<sup>−1</sup>)", standoff=9, font=dict(size=13.5))),
    yaxis5=axis_base(row3, True, anchor="x5", range=[0, 35.7], tickvals=[0, 5, 10, 15, 20, 25, 30, 35],
                     title=dict(text="Frequency", standoff=7, font=dict(size=13.5))),
    legend=dict(x=769 / 1587, y=1 - 426 / 1190, xanchor="right", yanchor="top", **legend_style),
    legend2=dict(x=1553 / 1587, y=1 - 816 / 1190, xanchor="right", yanchor="top", **legend_style),
    legend3=dict(x=89.3 / 1587, y=1 - 334.3 / 1190, xanchor="left", yanchor="bottom", **legend_style),
)

fig = go.Figure(data=data, layout=layout)
fig.write_html("out.html", config={"displayModeBar": False}, post_script="document.body.style.margin='0';")
